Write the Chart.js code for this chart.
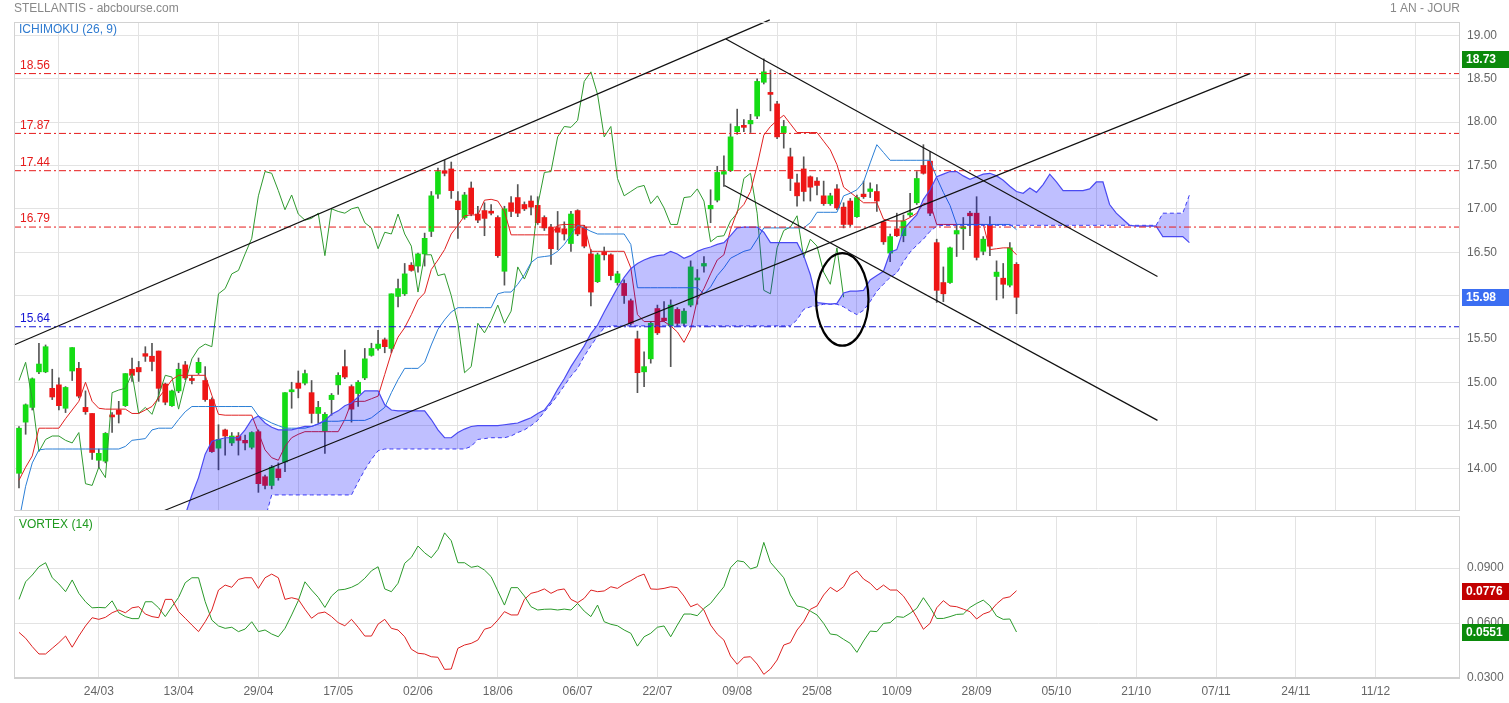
<!DOCTYPE html>
<html>
<head>
<meta charset="utf-8">
<title>STELLANTIS - abcbourse.com</title>
<script src="https://cdn.jsdelivr.net/npm/chart.js@4.4.1/dist/chart.umd.min.js"></script>
<style>
html, body { margin: 0; padding: 0; background: #fff; }
#wrap { position: relative; width: 1509px; height: 703px; overflow: hidden; }
#priceChart { position: absolute; left: 0; top: 0; }
#vortexChart { position: absolute; left: 0; top: 513px; }
</style>
</head>
<body>
<div id="wrap">
  <canvas id="priceChart" width="1509" height="513"></canvas>
  <canvas id="vortexChart" width="1509" height="190"></canvas>
</div>
<script>
// --- data (index 0 = first session shown) ---
const dateLabels = ["24/03", "13/04", "29/04", "17/05", "02/06", "18/06", "06/07", "22/07", "09/08",
  "25/08", "10/09", "28/09", "05/10", "21/10", "07/11", "24/11", "11/12"];
const dateTicks = [12, 24, 36, 48, 60, 72, 84, 96, 108, 120, 132, 144, 156, 168, 180, 192, 204];

const opens = [
  13.95, 14.54, 14.71, 15.12, 15.12, 14.93, 14.97, 14.70, 15.13, 15.16,
  14.71, 14.64, 14.10, 14.09, 14.62, 14.68, 14.73, 15.15, 15.17, 15.33,
  15.30, 15.36, 14.98, 14.73, 14.90, 15.20, 15.04, 15.11, 15.02, 14.80,
  14.24, 14.45, 14.30, 14.38, 14.33, 14.25, 14.43, 13.91, 13.81, 14.00,
  14.08, 14.89, 14.99, 14.99, 14.88, 14.64, 14.44, 14.80, 14.97, 15.18,
  14.95, 14.87, 15.05, 15.31, 15.39, 15.49, 15.39, 15.99, 16.02, 16.35,
  16.34, 16.48, 16.74, 17.17, 17.44, 17.46, 17.09, 16.90, 17.24, 16.94,
  16.98, 16.97, 16.90, 16.28, 17.07, 17.13, 17.05, 17.09, 17.04, 16.90,
  16.79, 16.78, 16.77, 16.60, 16.98, 16.79, 16.48, 16.16, 16.50, 16.47,
  16.15, 16.14, 15.94, 15.50, 15.12, 15.27, 15.85, 15.74, 15.65, 15.84,
  15.68, 15.89, 16.18, 16.34, 17.00, 17.10, 17.40, 17.44, 17.89, 17.96,
  17.98, 18.07, 18.46, 18.34, 18.21, 17.88, 17.60, 17.30, 17.46, 17.37,
  17.32, 17.15, 17.06, 17.23, 17.02, 17.09, 16.91, 17.17, 17.20, 17.20,
  16.85, 16.49, 16.77, 16.69, 16.93, 17.07, 17.50, 17.55, 16.61, 16.15,
  16.15, 16.71, 16.77, 16.95, 16.95, 16.51, 16.81, 16.22, 16.20, 16.12,
  16.36];
const highs = [
  14.49, 14.75, 15.05, 15.45, 15.43, 15.15, 15.05, 14.95, 15.40, 15.23,
  14.90, 14.64, 14.23, 14.42, 14.65, 14.78, 15.10, 15.28, 15.24, 15.41,
  15.45, 15.36, 14.99, 14.91, 15.22, 15.24, 15.08, 15.28, 15.18, 14.82,
  14.51, 14.46, 14.42, 14.42, 14.39, 14.43, 14.45, 13.93, 14.04, 14.07,
  14.88, 15.00, 15.13, 15.14, 15.02, 14.78, 14.65, 14.87, 15.11, 15.37,
  14.97, 15.02, 15.39, 15.45, 15.60, 15.51, 16.02, 16.19, 16.37, 16.38,
  16.49, 16.72, 17.20, 17.47, 17.56, 17.54, 17.20, 17.19, 17.31, 17.03,
  17.07, 17.05, 16.92, 17.03, 17.14, 17.28, 17.08, 17.15, 17.14, 16.92,
  16.82, 16.97, 16.85, 16.97, 16.99, 16.81, 16.53, 16.49, 16.56, 16.48,
  16.28, 16.18, 15.96, 15.59, 15.35, 15.70, 15.89, 15.93, 15.95, 15.86,
  15.85, 16.40, 16.30, 16.45, 17.22, 17.49, 17.61, 17.98, 18.15, 18.03,
  18.09, 18.50, 18.73, 18.60, 18.24, 18.02, 17.70, 17.40, 17.60, 17.38,
  17.36, 17.32, 17.18, 17.28, 17.07, 17.12, 17.16, 17.32, 17.30, 17.28,
  16.86, 16.71, 16.95, 16.93, 17.18, 17.43, 17.74, 17.66, 16.65, 16.33,
  16.56, 16.81, 16.90, 16.97, 17.14, 16.68, 16.91, 16.40, 16.37, 16.61,
  16.38];
const lows = [
  13.78, 14.40, 14.68, 15.10, 15.11, 14.80, 14.68, 14.65, 15.02, 14.82,
  14.63, 14.11, 14.01, 14.07, 14.42, 14.53, 14.72, 15.01, 15.01, 15.24,
  15.13, 14.78, 14.74, 14.72, 14.88, 15.03, 14.98, 15.09, 14.78, 14.19,
  13.99, 14.16, 14.27, 14.16, 14.22, 14.23, 13.73, 13.77, 13.77, 13.87,
  13.97, 14.70, 14.82, 14.97, 14.53, 14.53, 14.18, 14.62, 14.86, 15.04,
  14.54, 14.72, 15.03, 15.30, 15.37, 15.34, 15.34, 15.87, 16.00, 16.28,
  16.27, 16.34, 16.68, 17.12, 17.38, 17.12, 16.66, 16.88, 16.92, 16.84,
  16.69, 16.93, 16.44, 16.12, 16.91, 16.91, 16.98, 16.93, 16.82, 16.75,
  16.36, 16.53, 16.64, 16.51, 16.69, 16.55, 15.88, 16.15, 16.41, 16.18,
  16.12, 15.91, 15.66, 14.88, 14.95, 15.22, 15.55, 15.70, 15.18, 15.65,
  15.65, 15.87, 15.90, 16.27, 16.84, 17.08, 17.26, 17.43, 17.86, 17.89,
  17.88, 18.04, 18.44, 18.13, 17.81, 17.70, 17.21, 17.03, 17.09, 17.09,
  17.16, 17.04, 17.04, 16.99, 16.78, 16.80, 16.90, 17.12, 17.13, 16.97,
  16.59, 16.39, 16.68, 16.62, 16.91, 17.05, 17.40, 16.92, 15.92, 15.93,
  16.14, 16.45, 16.53, 16.69, 16.41, 16.47, 16.46, 15.95, 15.97, 16.10,
  15.79];
const closes = [
  14.47, 14.74, 15.04, 15.21, 15.41, 14.83, 14.73, 14.94, 15.40, 14.84,
  14.66, 14.19, 14.18, 14.41, 14.60, 14.63, 15.10, 15.08, 15.12, 15.30,
  15.24, 14.93, 14.77, 14.90, 15.15, 15.05, 15.02, 15.23, 14.80, 14.20,
  14.34, 14.38, 14.38, 14.33, 14.30, 14.42, 13.83, 13.81, 14.02, 13.90,
  14.88, 14.91, 14.93, 15.10, 14.64, 14.71, 14.63, 14.85, 15.08, 15.06,
  14.69, 15.00, 15.27, 15.39, 15.44, 15.41, 16.02, 16.08, 16.25, 16.29,
  16.48, 16.66, 17.15, 17.43, 17.41, 17.21, 16.99, 17.16, 16.94, 16.87,
  16.89, 16.95, 16.46, 17.00, 16.97, 16.95, 17.00, 17.02, 16.84, 16.78,
  16.54, 16.73, 16.71, 16.94, 16.71, 16.57, 16.04, 16.47, 16.47, 16.23,
  16.25, 16.00, 15.68, 15.11, 15.18, 15.68, 15.57, 15.71, 15.89, 15.68,
  15.82, 16.33, 16.19, 16.37, 17.04, 17.42, 17.43, 17.83, 17.95, 17.94,
  18.02, 18.47, 18.58, 18.32, 17.83, 17.95, 17.35, 17.15, 17.20, 17.25,
  17.27, 17.06, 17.15, 17.01, 16.82, 16.82, 17.13, 17.14, 17.23, 17.09,
  16.62, 16.68, 16.69, 16.86, 16.95, 17.35, 17.41, 16.95, 16.06, 16.02,
  16.55, 16.75, 16.79, 16.92, 16.44, 16.65, 16.57, 16.27, 16.13, 16.55,
  15.98];

const tenkan = [
  13.87, 14.02, 14.15, 14.47, 14.47, 14.47, 14.47, 14.58, 14.68, 14.78,
  15.00, 14.78, 14.70, 14.69, 14.69, 14.69, 14.69, 14.64, 14.64, 14.68,
  14.72, 14.82, 14.92, 15.03, 15.08, 15.08, 15.08, 15.08, 15.08, 14.85,
  14.63, 14.62, 14.62, 14.62, 14.62, 14.62, 14.42, 14.22, 14.13, 14.10,
  14.26, 14.36, 14.40, 14.43, 14.43, 14.43, 14.43, 14.43, 14.43, 14.57,
  14.77, 14.78, 14.78, 14.81, 14.84, 15.09, 15.34, 15.52, 15.63, 15.78,
  15.95, 16.03, 16.30, 16.41, 16.53, 16.71, 16.81, 16.92, 16.93, 16.93,
  17.10, 17.11, 17.09, 16.97, 16.70, 16.70, 16.70, 16.70, 16.70, 16.70,
  16.70, 16.81, 16.82, 16.82, 16.81, 16.81, 16.51, 16.51, 16.51, 16.51,
  16.51, 16.51, 16.32, 15.78, 15.70, 15.70, 15.70, 15.70, 15.65, 15.58,
  15.46, 15.61, 15.95, 16.08, 16.25, 16.41, 16.47, 16.76, 16.97, 17.05,
  17.20, 17.50, 17.85, 17.95, 18.02, 18.08, 17.98, 17.88, 17.88, 17.88,
  17.88, 17.78, 17.68, 17.51, 17.25, 17.19, 17.13, 17.07, 17.07, 17.07,
  16.88, 16.86, 16.86, 16.86, 16.90, 16.95, 17.06, 17.07, 16.82, 16.82,
  16.82, 16.82, 16.82, 16.82, 16.82, 16.82, 16.53, 16.54, 16.55, 16.55,
  16.47];
const kijun = [
  13.40, 13.80, 14.07, 14.22, 14.23, 14.23, 14.23, 14.23, 14.23, 14.23,
  14.23, 14.23, 14.23, 14.23, 14.23, 14.23, 14.26, 14.33, 14.34, 14.35,
  14.45, 14.47, 14.47, 14.47, 14.57, 14.66, 14.72, 14.72, 14.72, 14.72,
  14.72, 14.72, 14.72, 14.72, 14.72, 14.72, 14.61, 14.57, 14.53, 14.50,
  14.47, 14.47, 14.47, 14.47, 14.49, 14.52, 14.55, 14.55, 14.55, 14.56,
  14.56, 14.56, 14.56, 14.59, 14.65, 14.71, 14.88, 15.03, 15.16, 15.16,
  15.16, 15.23, 15.43, 15.61, 15.72, 15.81, 15.86, 15.86, 15.86, 15.86,
  15.86, 15.86, 16.02, 16.04, 16.04, 16.13, 16.24, 16.38, 16.44, 16.45,
  16.46, 16.51, 16.59, 16.70, 16.81, 16.78, 16.74, 16.71, 16.71, 16.71,
  16.71, 16.71, 16.59, 16.09, 16.09, 16.09, 16.09, 16.09, 16.09, 16.09,
  16.09, 16.09, 16.09, 16.02, 16.10, 16.23, 16.32, 16.43, 16.47, 16.51,
  16.53, 16.65, 16.78, 16.78, 16.78, 16.78, 16.78, 16.78, 16.78, 16.84,
  16.96, 16.96, 16.96, 16.96, 17.15, 17.18, 17.22, 17.31, 17.53, 17.74,
  17.65, 17.56, 17.56, 17.56, 17.56, 17.56, 17.56, 17.56, 17.36, 17.19,
  17.04, 16.82, 16.82, 16.82, 16.82, 16.82, 16.82, 16.82, 16.82, 16.82,
  16.76];
// cloud edges, already shifted 26 sessions ahead (indices 0..176)
const spanA = [
  13.30, 13.30, 13.30, 13.30, 13.30, 13.30, 13.30, 13.30, 13.30, 13.30,
  13.30, 13.30, 13.30, 13.30, 13.30, 13.30, 13.30, 13.30, 13.30, 13.30,
  13.30, 13.30, 13.30, 13.30, 13.30, 13.47, 13.70, 13.90, 14.17, 14.32,
  14.34, 14.36, 14.36, 14.36, 14.45, 14.57, 14.61, 14.53, 14.48, 14.45,
  14.45, 14.45, 14.47, 14.49, 14.49, 14.52, 14.56, 14.63, 14.67, 14.73,
  14.76, 14.83, 14.90, 14.90, 14.90, 14.74, 14.68, 14.67, 14.67, 14.67,
  14.67, 14.67, 14.57, 14.45, 14.36, 14.36, 14.42, 14.46, 14.49, 14.50,
  14.50, 14.50, 14.50, 14.51, 14.52, 14.53, 14.56, 14.59, 14.64, 14.68,
  14.78, 14.92, 15.04, 15.18, 15.30, 15.42, 15.56, 15.66, 15.81, 15.95,
  16.09, 16.21, 16.31, 16.37, 16.41, 16.44, 16.46, 16.47, 16.51, 16.48,
  16.43, 16.46, 16.51, 16.54, 16.56, 16.59, 16.61, 16.69, 16.78, 16.79,
  16.79, 16.79, 16.73, 16.61, 16.61, 16.61, 16.61, 16.61, 16.46, 16.24,
  15.92, 15.91, 15.90, 15.91, 16.03, 16.05, 16.05, 16.06, 16.18, 16.23,
  16.28, 16.50, 16.53, 16.76, 16.85, 16.93, 17.11, 17.22, 17.37, 17.40,
  17.43, 17.43, 17.38, 17.34, 17.37, 17.40, 17.41, 17.38, 17.33, 17.26,
  17.20, 17.18, 17.24, 17.19, 17.28, 17.40, 17.31, 17.21, 17.21, 17.21,
  17.21, 17.23, 17.31, 17.31, 17.05, 16.95, 16.88, 16.81, 16.80, 16.80,
  16.80, 16.80, 16.68, 16.68, 16.68, 16.68, 16.61];
const spanB = [
  13.30, 13.30, 13.30, 13.30, 13.30, 13.30, 13.30, 13.30, 13.30, 13.30,
  13.30, 13.30, 13.30, 13.30, 13.30, 13.30, 13.30, 13.30, 13.30, 13.30,
  13.30, 13.30, 13.30, 13.30, 13.30, 13.30, 13.30, 13.30, 13.30, 13.30,
  13.30, 13.30, 13.30, 13.30, 13.30, 13.30, 13.30, 13.42, 13.70, 13.70,
  13.70, 13.70, 13.70, 13.70, 13.70, 13.70, 13.70, 13.70, 13.70, 13.70,
  13.70, 13.85, 13.99, 14.11, 14.21, 14.23, 14.23, 14.23, 14.23, 14.23,
  14.23, 14.23, 14.23, 14.23, 14.23, 14.23, 14.23, 14.23, 14.26, 14.34,
  14.35, 14.36, 14.36, 14.36, 14.38, 14.42, 14.45, 14.50, 14.56, 14.66,
  14.75, 14.85, 14.96, 15.07, 15.16, 15.30, 15.42, 15.53, 15.63, 15.65,
  15.65, 15.65, 15.65, 15.65, 15.65, 15.65, 15.65, 15.65, 15.65, 15.65,
  15.65, 15.65, 15.65, 15.65, 15.65, 15.65, 15.65, 15.65, 15.65, 15.65,
  15.65, 15.65, 15.65, 15.65, 15.65, 15.65, 15.65, 15.72, 15.84, 15.87,
  15.88, 15.90, 15.90, 15.90, 15.87, 15.82, 15.78, 15.83, 15.93, 16.05,
  16.13, 16.21, 16.26, 16.39, 16.50, 16.58, 16.65, 16.74, 16.80, 16.81,
  16.81, 16.81, 16.81, 16.81, 16.81, 16.81, 16.81, 16.81, 16.81, 16.81,
  16.81, 16.81, 16.81, 16.81, 16.81, 16.81, 16.81, 16.81, 16.81, 16.81,
  16.81, 16.81, 16.81, 16.81, 16.81, 16.81, 16.81, 16.81, 16.81, 16.81,
  16.81, 16.81, 16.95, 16.95, 16.95, 16.95, 17.16];
const chikouShift = 26;

const viPlus = [
  0.0729, 0.0825, 0.0862, 0.0907, 0.0929, 0.0847, 0.0813, 0.0771, 0.0835, 0.0762,
  0.0716, 0.0683, 0.0685, 0.0683, 0.0721, 0.0656, 0.0635, 0.0624, 0.0624, 0.0716,
  0.0716, 0.0683, 0.0635, 0.0689, 0.0740, 0.0820, 0.0847, 0.0847, 0.0716, 0.0616,
  0.0584, 0.0571, 0.0577, 0.0553, 0.0567, 0.0607, 0.0553, 0.0562, 0.0540, 0.0525,
  0.0571, 0.0644, 0.0722, 0.0825, 0.0780, 0.0740, 0.0685, 0.0747, 0.0780, 0.0784,
  0.0795, 0.0813, 0.0844, 0.0885, 0.0907, 0.0786, 0.0771, 0.0817, 0.0926, 0.0958,
  0.1020, 0.0983, 0.0956, 0.1002, 0.1092, 0.1049, 0.0929, 0.0929, 0.0904, 0.0911,
  0.0889, 0.0853, 0.0775, 0.0698, 0.0793, 0.0793, 0.0747, 0.0689, 0.0671, 0.0675,
  0.0676, 0.0671, 0.0676, 0.0671, 0.0707, 0.0665, 0.0635, 0.0698, 0.0607, 0.0593,
  0.0585, 0.0562, 0.0544, 0.0474, 0.0525, 0.0544, 0.0577, 0.0584, 0.0525, 0.0589,
  0.0649, 0.0649, 0.0640, 0.0680, 0.0707, 0.0753, 0.0798, 0.0902, 0.0940, 0.0934,
  0.0895, 0.0907, 0.1040, 0.0931, 0.0889, 0.0847, 0.0753, 0.0693, 0.0685, 0.0665,
  0.0644, 0.0598, 0.0540, 0.0535, 0.0511, 0.0489, 0.0440, 0.0502, 0.0556, 0.0553,
  0.0598, 0.0602, 0.0635, 0.0631, 0.0653, 0.0680, 0.0738, 0.0685, 0.0625, 0.0625,
  0.0635, 0.0647, 0.0649, 0.0685, 0.0707, 0.0725, 0.0694, 0.0638, 0.0620, 0.0622,
  0.0551];
const viMinus = [
  0.0549, 0.0517, 0.0471, 0.0431, 0.0431, 0.0462, 0.0493, 0.0529, 0.0468, 0.0529,
  0.0584, 0.0629, 0.0620, 0.0631, 0.0656, 0.0671, 0.0656, 0.0683, 0.0689, 0.0649,
  0.0635, 0.0629, 0.0729, 0.0729, 0.0662, 0.0626, 0.0589, 0.0553, 0.0607, 0.0671,
  0.0780, 0.0807, 0.0795, 0.0838, 0.0847, 0.0847, 0.0789, 0.0847, 0.0867, 0.0847,
  0.0729, 0.0738, 0.0729, 0.0675, 0.0626, 0.0653, 0.0660, 0.0635, 0.0602, 0.0585,
  0.0620, 0.0577, 0.0529, 0.0529, 0.0594, 0.0620, 0.0571, 0.0562, 0.0525, 0.0457,
  0.0435, 0.0431, 0.0416, 0.0413, 0.0347, 0.0349, 0.0462, 0.0480, 0.0489, 0.0507,
  0.0566, 0.0577, 0.0616, 0.0662, 0.0644, 0.0644, 0.0729, 0.0762, 0.0771, 0.0786,
  0.0762, 0.0780, 0.0786, 0.0729, 0.0711, 0.0735, 0.0780, 0.0771, 0.0775, 0.0798,
  0.0789, 0.0813, 0.0831, 0.0853, 0.0867, 0.0786, 0.0784, 0.0789, 0.0798, 0.0793,
  0.0747, 0.0689, 0.0704, 0.0671, 0.0589, 0.0540, 0.0507, 0.0420, 0.0375, 0.0413,
  0.0416, 0.0376, 0.0320, 0.0349, 0.0398, 0.0480, 0.0493, 0.0562, 0.0607, 0.0675,
  0.0693, 0.0753, 0.0795, 0.0771, 0.0798, 0.0862, 0.0884, 0.0840, 0.0817, 0.0780,
  0.0807, 0.0780, 0.0780, 0.0747, 0.0693, 0.0631, 0.0566, 0.0598, 0.0683, 0.0722,
  0.0693, 0.0689, 0.0676, 0.0662, 0.0622, 0.0649, 0.0662, 0.0704, 0.0735, 0.0743,
  0.0776];

const levels = [18.56, 17.87, 17.44, 16.79, 15.64];
const levelColors = ["#e61b1b", "#e61b1b", "#e61b1b", "#e61b1b", "#1414d4"];
const priceTicks = [14, 14.5, 15, 15.5, 16, 16.5, 17, 17.5, 18, 18.5, 19];
const vortexTicks = [0.03, 0.06, 0.09];

// hand-drawn trend lines and the circled zone, in (session index, price)
const trendLines = [
  [{ x: -0.75, y: 15.43 }, { x: 112.9, y: 19.18 }],
  [{ x: 21.5, y: 13.51 }, { x: 185.1, y: 18.56 }],
  [{ x: 106.3, y: 18.96 }, { x: 171.2, y: 16.22 }],
  [{ x: 106.1, y: 17.27 }, { x: 171.2, y: 14.56 }]
];
const circledZone = { x: 123.8, y: 15.956, rx: 3.94, ry: 0.534 };

// --- drawing ---
Chart.defaults.font.family = "'Liberation Sans', Arial, sans-serif";
Chart.defaults.font.size = 12;
Chart.defaults.color = "#666";

const GREEN = "#14dc14";
const RED = "#ee1616";
const GRID = "#e3e3e3";
const X_MIN = -0.75;
const X_MAX = 216.69;

const pts = arr => arr.map((v, i) => ({ x: i, y: v }));

function xScaleOpts(showLabels) {
  return {
    type: "linear",
    min: X_MIN,
    max: X_MAX,
    offset: false,
    afterBuildTicks: s => { s.ticks = dateTicks.map(v => ({ value: v })); },
    afterFit: s => { s.height = showLabels ? 25 : 0; s.paddingLeft = 0; s.paddingRight = 0; },
    grid: { color: GRID, drawTicks: false },
    border: { display: false },
    ticks: {
      display: showLabels,
      autoSkip: false,
      maxRotation: 0,
      padding: 6,
      color: "#666",
      callback: v => {
        const k = dateTicks.indexOf(v);
        return k >= 0 ? dateLabels[k] : "";
      }
    }
  };
}

function yScaleOpts(min, max, ticks, digits) {
  return {
    position: "right",
    min,
    max,
    afterBuildTicks: s => { s.ticks = ticks.map(v => ({ value: v })); },
    afterFit: s => { s.width = 49; s.paddingTop = 0; s.paddingBottom = 0; },
    grid: { color: GRID, drawTicks: false },
    border: { display: false },
    ticks: { padding: 7, color: "#666", callback: v => v.toFixed(digits) }
  };
}

function drawBadge(ctx, area, y, text, color) {
  ctx.fillStyle = color;
  ctx.fillRect(area.right + 2, Math.round(y) - 8, 47, 17);
  ctx.fillStyle = "#fff";
  ctx.font = "bold 12px 'Liberation Sans', Arial, sans-serif";
  ctx.textAlign = "left";
  ctx.textBaseline = "middle";
  ctx.fillText(text, area.right + 6, Math.round(y) + 1);
}

function drawFrame(ctx, area) {
  ctx.save();
  ctx.strokeStyle = "#d2d2d2";
  ctx.lineWidth = 1;
  ctx.strokeRect(Math.round(area.left) + 0.5, Math.round(area.top) + 0.5,
    Math.round(area.right - area.left) - 1, Math.round(area.bottom - area.top) - 1);
  ctx.restore();
}

const priceDecor = {
  id: "priceDecor",
  afterDatasetsDraw(chart) {
    const { ctx, chartArea: a, scales: { x, y } } = chart;
    ctx.save();
    // circled zone
    const cx = x.getPixelForValue(circledZone.x);
    const cy = y.getPixelForValue(circledZone.y);
    const rx = x.getPixelForValue(circledZone.x + circledZone.rx) - cx;
    const ry = cy - y.getPixelForValue(circledZone.y + circledZone.ry);
    ctx.beginPath();
    ctx.ellipse(cx, cy, rx, ry, 0, 0, Math.PI * 2);
    ctx.strokeStyle = "#000";
    ctx.lineWidth = 2.2;
    ctx.stroke();
    // level captions
    ctx.font = "12px 'Liberation Sans', Arial, sans-serif";
    ctx.textAlign = "left";
    ctx.textBaseline = "middle";
    levels.forEach((lv, k) => {
      ctx.fillStyle = levelColors[k];
      ctx.fillText(lv.toFixed(2), a.left + 6, y.getPixelForValue(lv) - 8);
    });
    ctx.fillStyle = "#2f7bd0";
    ctx.fillText("ICHIMOKU (26, 9)", a.left + 5, a.top + 8);
    ctx.restore();
  },
  afterDraw(chart) {
    const { ctx, chartArea: a, scales: { y } } = chart;
    drawFrame(ctx, a);
    ctx.save();
    ctx.font = "12px 'Liberation Sans', Arial, sans-serif";
    ctx.textBaseline = "middle";
    ctx.fillStyle = "#888";
    ctx.textAlign = "left";
    ctx.fillText("STELLANTIS - abcbourse.com", 14, 9);
    ctx.textAlign = "right";
    ctx.fillText("1 AN - JOUR", a.right, 9);
    drawBadge(ctx, a, y.getPixelForValue(Math.max(...highs)), Math.max(...highs).toFixed(2), "#0b8a0b");
    drawBadge(ctx, a, y.getPixelForValue(closes[closes.length - 1]), closes[closes.length - 1].toFixed(2), "#3b6ef2");
    ctx.restore();
  }
};

const lineDs = (data, color, extra) => Object.assign({
  type: "line", data, borderColor: color, borderWidth: 1,
  pointRadius: 0, tension: 0, fill: false
}, extra);

const priceDatasets = [
  {
    type: "bar",
    data: lows.map((l, i) => ({ x: i, y: [l, highs[i]] })),
    backgroundColor: "#555",
    barThickness: 1,
    grouped: false,
    order: 11
  },
  {
    type: "bar",
    data: opens.map((o, i) => ({ x: i, y: [o, closes[i]] })),
    backgroundColor: c => (closes[c.dataIndex] >= opens[c.dataIndex] ? GREEN : RED),
    barThickness: 5,
    minBarLength: 2,
    grouped: false,
    order: 10
  },
  lineDs(closes.slice(chikouShift).map((c, k) => ({ x: k, y: c })), "#2f9a2f", { order: 6 }),
  lineDs(pts(kijun), "#2b7fd6", { order: 5 }),
  lineDs(pts(tenkan), "#e02020", { order: 5 }),
  lineDs(pts(spanB), "#4646f2", { borderDash: [4, 3], order: 4 }),
  lineDs(pts(spanA), "#4a4af2", { fill: "-1", backgroundColor: "rgba(0,0,255,0.25)", borderWidth: 1.2, order: 3 })
];
levels.forEach((lv, k) => {
  priceDatasets.push(lineDs([{ x: X_MIN, y: lv }, { x: X_MAX, y: lv }], levelColors[k],
    { borderDash: [7, 3, 2, 3], order: 2 }));
});
trendLines.forEach((seg, k) => {
  priceDatasets.push(lineDs(seg, "#111", { borderWidth: 1.2, order: 1, clip: k === 0 ? false : undefined }));
});

new Chart(document.getElementById("priceChart"), {
  type: "line",
  data: { datasets: priceDatasets },
  options: {
    responsive: false,
    animation: false,
    events: [],
    layout: { padding: { left: 14, top: 22, right: 0, bottom: 2 } },
    plugins: {
      legend: { display: false },
      tooltip: { enabled: false },
      filler: { propagate: false }
    },
    scales: {
      x: xScaleOpts(false),
      y: yScaleOpts(13.515, 19.155, priceTicks, 2)
    }
  },
  plugins: [priceDecor]
});

const vortexDecor = {
  id: "vortexDecor",
  afterDraw(chart) {
    const { ctx, chartArea: a, scales: { y } } = chart;
    drawFrame(ctx, a);
    ctx.save();
    ctx.strokeStyle = "#cfcfcf";
    ctx.lineWidth = 2;
    ctx.beginPath();
    ctx.moveTo(a.left, a.bottom);
    ctx.lineTo(a.right, a.bottom);
    ctx.stroke();
    ctx.font = "12px 'Liberation Sans', Arial, sans-serif";
    ctx.textAlign = "left";
    ctx.textBaseline = "middle";
    ctx.fillStyle = "#1f9a1f";
    ctx.fillText("VORTEX (14)", a.left + 5, a.top + 9);
    const lastM = viMinus[viMinus.length - 1];
    const lastP = viPlus[viPlus.length - 1];
    drawBadge(ctx, a, y.getPixelForValue(lastM), lastM.toFixed(4), "#c20000");
    drawBadge(ctx, a, y.getPixelForValue(lastP), lastP.toFixed(4), "#0b8a0b");
    ctx.restore();
  }
};

new Chart(document.getElementById("vortexChart"), {
  type: "line",
  data: {
    datasets: [
      lineDs(pts(viPlus), "#2a9a2a", { order: 2 }),
      lineDs(pts(viMinus), "#dd2020", { order: 1 })
    ]
  },
  options: {
    responsive: false,
    animation: false,
    events: [],
    layout: { padding: { left: 14, top: 3, right: 0, bottom: 0 } },
    plugins: { legend: { display: false }, tooltip: { enabled: false } },
    scales: {
      x: xScaleOpts(true),
      y: yScaleOpts(0.03, 0.1184, vortexTicks, 4)
    }
  },
  plugins: [vortexDecor]
});
</script>
</body>
</html>
